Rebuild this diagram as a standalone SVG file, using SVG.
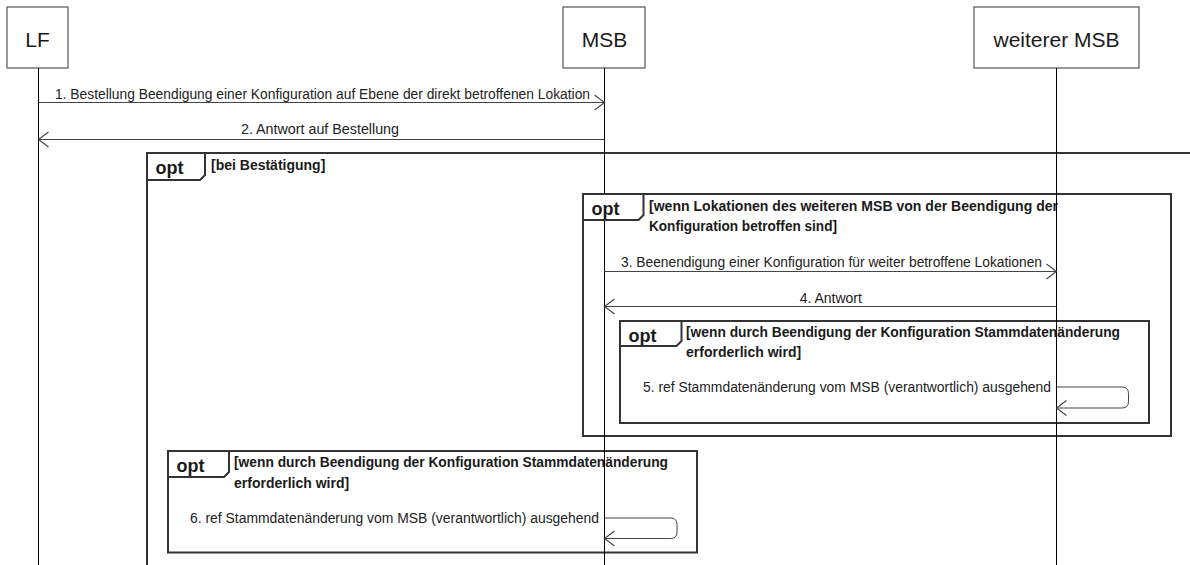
<svg xmlns="http://www.w3.org/2000/svg" width="1190" height="565" viewBox="0 0 1190 565">
  <defs>
    <marker id="open" markerUnits="userSpaceOnUse" markerWidth="14" markerHeight="18" refX="11" refY="8.5" orient="auto" viewBox="0 0 14 18">
      <path d="M1,1 L11,8.5 L1,16" fill="none" stroke="#444" stroke-width="1.1"/>
    </marker>
  </defs>
  <style>
    text { font-family: "Liberation Sans", Arial, sans-serif; fill: #1a1a1a; }
    .part { fill: #fff; stroke: #555; stroke-width: 1.2; }
    .plabel { font-size: 21px; text-anchor: middle; }
    .life { stroke: #000; stroke-width: 1; fill: none; }
    .msg { stroke: #444; stroke-width: 1; fill: none; marker-end: url(#open); }
    .mlabel { font-size: 14px; fill: #222; }
    .frame { fill: none; stroke: #333; stroke-width: 2; }
    .tab { fill: #fff; stroke: #333; stroke-width: 2; }
    .opt { font-size: 18px; font-weight: bold; }
    .cond { font-size: 14px; font-weight: bold; }
  </style>
  <rect width="1190" height="565" fill="#fff"/>

  <!-- frame bodies and guard texts -->
  <g id="frame-bei-bestaetigung">
    <rect class="frame" x="147" y="153" width="1100" height="460"/>
    <text class="cond" x="211" y="169.7">[bei Bestätigung]</text>
  </g>
  <g id="frame-weiterer-msb">
    <rect class="frame" x="583" y="194" width="588" height="242"/>
    <text class="cond" x="649" y="210.7" textLength="409" lengthAdjust="spacingAndGlyphs">[wenn Lokationen des weiteren MSB von der Beendigung der</text>
    <text class="cond" x="649" y="230.7" textLength="188" lengthAdjust="spacingAndGlyphs">Konfiguration betroffen sind]</text>
  </g>
  <g id="frame-stammdaten-1">
    <rect class="frame" x="620" y="321" width="529" height="102"/>
    <text class="cond" x="686" y="337.3" textLength="434" lengthAdjust="spacingAndGlyphs">[wenn durch Beendigung der Konfiguration Stammdatenänderung</text>
    <text class="cond" x="686" y="357">erforderlich wird]</text>
  </g>
  <g id="frame-stammdaten-2">
    <rect class="frame" x="168" y="451" width="529" height="101.5"/>
    <text class="cond" x="234" y="467.3" textLength="434" lengthAdjust="spacingAndGlyphs">[wenn durch Beendigung der Konfiguration Stammdatenänderung</text>
    <text class="cond" x="234" y="487.5">erforderlich wird]</text>
  </g>

  <!-- participants -->
  <g id="LF">
    <rect class="part" x="7" y="7" width="61" height="61"/>
    <text class="plabel" x="37.5" y="46.5">LF</text>
  </g>
  <g id="MSB">
    <rect class="part" x="563" y="7" width="82" height="61"/>
    <text class="plabel" x="604.5" y="46.5">MSB</text>
  </g>
  <g id="weitererMSB">
    <rect class="part" x="974" y="7" width="165" height="61"/>
    <text class="plabel" x="1056.5" y="46.5">weiterer MSB</text>
  </g>

  <!-- lifelines -->
  <g id="lifelines">
    <line class="life" x1="38.5" y1="68" x2="38.5" y2="565"/>
    <line class="life" x1="604.5" y1="68" x2="604.5" y2="565"/>
    <line class="life" x1="1056.5" y1="68" x2="1056.5" y2="565"/>
  </g>

  <!-- frame tabs -->
  <g id="tabs">
    <path class="tab" d="M147,153 V180 H200 L205,175 V153 Z"/>
    <text class="opt" x="155.5" y="174">opt</text>
    <path class="tab" d="M583,194 V220 H638.5 L643.5,215 V194 Z"/>
    <text class="opt" x="591.5" y="215">opt</text>
    <path class="tab" d="M620,321 V346 H676.5 L681.5,341 V321 Z"/>
    <text class="opt" x="628.5" y="341.7">opt</text>
    <path class="tab" d="M168,451 V477 H224 L229,472 V451 Z"/>
    <text class="opt" x="176.5" y="472">opt</text>
  </g>

  <!-- connectors -->
  <g id="connectors">
    <line class="msg" x1="38.5" y1="102.5" x2="604.5" y2="102.5"/>
    <text class="mlabel" x="322.5" y="99" text-anchor="middle" textLength="535" lengthAdjust="spacingAndGlyphs">1. Bestellung Beendigung einer Konfiguration auf Ebene der direkt betroffenen Lokation</text>

    <line class="msg" x1="604.5" y1="139.5" x2="38.5" y2="139.5"/>
    <text class="mlabel" x="320" y="134" text-anchor="middle" textLength="158" lengthAdjust="spacingAndGlyphs">2. Antwort auf Bestellung</text>

    <line class="msg" x1="604.5" y1="271.5" x2="1056.5" y2="271.5"/>
    <text class="mlabel" x="831.5" y="266.5" text-anchor="middle" textLength="421" lengthAdjust="spacingAndGlyphs">3. Beenendigung einer Konfiguration für weiter betroffene Lokationen</text>

    <line class="msg" x1="1056.5" y1="306.5" x2="604.5" y2="306.5"/>
    <text class="mlabel" x="830.8" y="302.5" text-anchor="middle">4. Antwort</text>

    <path class="msg" d="M1056.5,387 H1122 Q1128.5,387 1128.5,393.5 V401.5 Q1128.5,408 1122,408 H1056.5"/>
    <text class="mlabel" x="643" y="391.5" textLength="408" lengthAdjust="spacingAndGlyphs">5. ref Stammdatenänderung vom MSB (verantwortlich) ausgehend</text>

    <path class="msg" d="M604.5,518 H670.5 Q677,518 677,524.5 V532 Q677,538.5 670.5,538.5 H604.5"/>
    <text class="mlabel" x="190" y="522.7" textLength="409" lengthAdjust="spacingAndGlyphs">6. ref Stammdatenänderung vom MSB (verantwortlich) ausgehend</text>
  </g>
</svg>
